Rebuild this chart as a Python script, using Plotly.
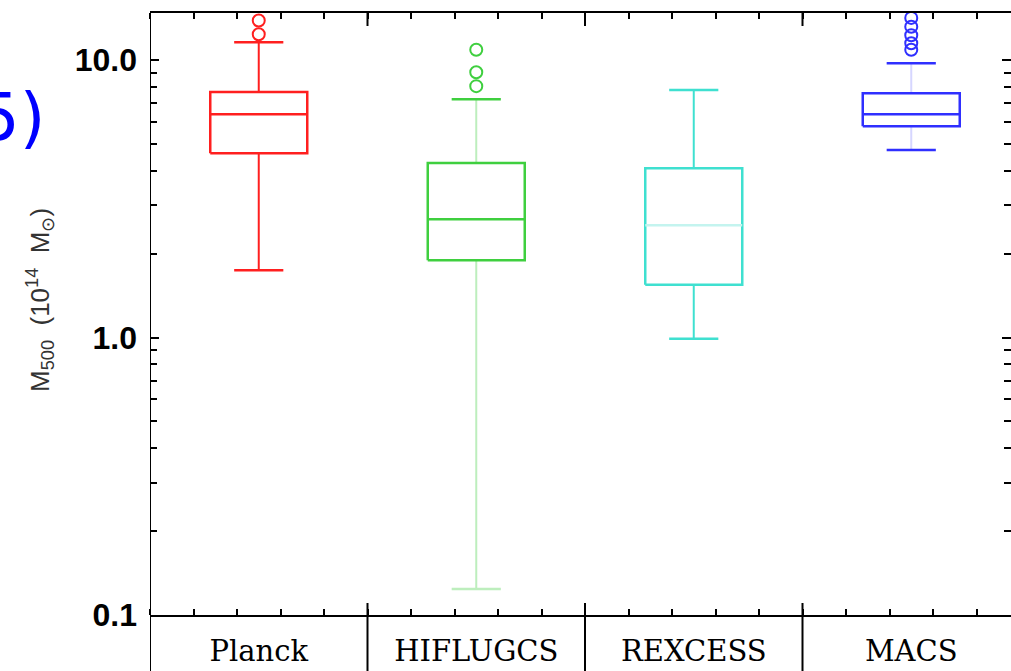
import plotly.graph_objects as go

# ---------------- data ----------------
categories = ["Planck", "HIFLUGCS", "REXCESS", "MACS"]
lower_whisker = [1.75, 0.124, 0.99, 4.74]
q1 = [4.62, 1.90, 1.55, 5.78]
median = [6.38, 2.67, 2.54, 6.38]
q3 = [7.67, 4.26, 4.08, 7.60]
upper_whisker = [11.6, 7.23, 7.80, 9.75]
outliers_planck = [12.4, 13.9]
outliers_hiflugcs = [8.06, 9.05, 10.9]
outliers_rexcess = []
outliers_macs = [10.9, 11.5, 12.3, 13.2, 14.2]
outliers = [outliers_planck, outliers_hiflugcs, outliers_rexcess, outliers_macs]

y_tick_vals = [0.1, 1.0, 10.0]
y_tick_text = ["0.1", "1.0", "10.0"]

# ---------------- styles ----------------
solid = ["#ff1f1f", "#3fcf3f", "#3fe0d0", "#2f2fff"]
pale = ["#ffb0b0", "#bdeebd", "#c4f4ef", "#d6d6ff"]
whisker_col = [solid[0], pale[1], solid[2], pale[3]]
median_col = [solid[0], solid[1], pale[2], solid[3]]
upper_cap_col = [solid[0], solid[1], solid[2], solid[3]]
lower_cap_col = [solid[0], pale[1], solid[2], solid[3]]

BOX_HALF = 0.223
CAP_HALF = 0.113

fig = go.Figure()

for i, name in enumerate(categories):
    # whiskers
    fig.add_trace(go.Scatter(
        x=[i, i, None, i, i],
        y=[q3[i], upper_whisker[i], None, q1[i], lower_whisker[i]],
        mode="lines", line=dict(color=whisker_col[i], width=2),
        showlegend=False, hoverinfo="skip"))
    # caps
    fig.add_trace(go.Scatter(
        x=[i - CAP_HALF, i + CAP_HALF], y=[upper_whisker[i]] * 2,
        mode="lines", line=dict(color=upper_cap_col[i], width=2.5),
        showlegend=False, hoverinfo="skip"))
    fig.add_trace(go.Scatter(
        x=[i - CAP_HALF, i + CAP_HALF], y=[lower_whisker[i]] * 2,
        mode="lines", line=dict(color=lower_cap_col[i], width=2.5),
        showlegend=False, hoverinfo="skip"))
    # box
    fig.add_trace(go.Scatter(
        x=[i - BOX_HALF, i + BOX_HALF, i + BOX_HALF, i - BOX_HALF, i - BOX_HALF],
        y=[q1[i], q1[i], q3[i], q3[i], q1[i]],
        mode="lines", line=dict(color=solid[i], width=2.5),
        name=name, showlegend=False))
    # median
    fig.add_trace(go.Scatter(
        x=[i - BOX_HALF, i + BOX_HALF], y=[median[i]] * 2,
        mode="lines", line=dict(color=median_col[i], width=2.5),
        showlegend=False, hoverinfo="skip"))
    # outliers
    if outliers[i]:
        fig.add_trace(go.Scatter(
            x=[i] * len(outliers[i]), y=outliers[i], mode="markers",
            marker=dict(symbol="circle-open", size=12, color=solid[i],
                        line=dict(width=2, color=solid[i])),
            showlegend=False))

n = len(categories)
plot_w_px = 861
cat_px = 217.5
x_right = -0.5 + plot_w_px / cat_px

# frame: left line (extends below the axis) and category dividers
shapes = []
bottom_paper = -56 / 602
for k in range(n):
    b = k - 0.5
    if b > -0.5:
        shapes.append(dict(type="line", xref="x", yref="paper", x0=b, x1=b,
                           y0=bottom_paper, y1=12 / 602,
                           line=dict(color="black", width=2)))
        shapes.append(dict(type="line", xref="x", yref="paper", x0=b, x1=b,
                           y0=1, y1=1 - 13 / 602,
                           line=dict(color="black", width=2)))
    else:
        shapes.append(dict(type="line", xref="x", yref="paper", x0=b, x1=b,
                           y0=bottom_paper, y1=1,
                           line=dict(color="black", width=2)))

minor_y = [k * 10 ** e for e in (-1, 0, 1) for k in range(2, 10)]

fig.update_layout(
    width=1011, height=671,
    margin=dict(l=150, r=0, t=13, b=56),
    paper_bgcolor="white", plot_bgcolor="white",
    shapes=shapes,
    xaxis=dict(
        range=[-0.5, x_right], tickmode="array",
        tickvals=list(range(n)), ticktext=categories,
        ticks="", showgrid=False, zeroline=False,
        showline=True, linecolor="black", linewidth=2, mirror="ticks",
        tickfont=dict(family="DejaVu Serif", size=29, color="black"),
        ticklabelstandoff=9,
        minor=dict(tick0=-0.5, dtick=0.2, ticks="inside", ticklen=6,
                   tickwidth=2, tickcolor="black", showgrid=False),
    ),
    yaxis=dict(
        type="log", range=[-1, 1.17], tickmode="array",
        tickvals=y_tick_vals, ticktext=y_tick_text,
        ticks="inside", ticklen=9, tickwidth=2, tickcolor="black",
        showgrid=False, zeroline=False,
        showline=False, mirror="ticks",
        tickfont=dict(family="Liberation Sans", size=32, color="black", weight="bold"),
        ticklabelstandoff=12,
        minor=dict(tickvals=minor_y, ticks="inside", ticklen=7,
                   tickwidth=2, tickcolor="black", showgrid=False),
    ),
    annotations=[
        dict(text="M<sub>500</sub>  (10<sup>14</sup>  M<sub>⊙</sub>)",
             xref="paper", yref="paper", x=(40 - 150) / 861, y=(615 - 300) / 602,
             xanchor="center", yanchor="middle", textangle=-90, showarrow=False,
             font=dict(family="Liberation Sans", size=26, color="#333333")),
        dict(text="(5)", xref="paper", yref="paper",
             x=(48 - 150) / 861, y=(615 - 117) / 602,
             xanchor="right", yanchor="middle", showarrow=False,
             font=dict(family="DejaVu Sans", size=66, color="#0000ff")),
    ],
)

fig.write_html("out.html")
